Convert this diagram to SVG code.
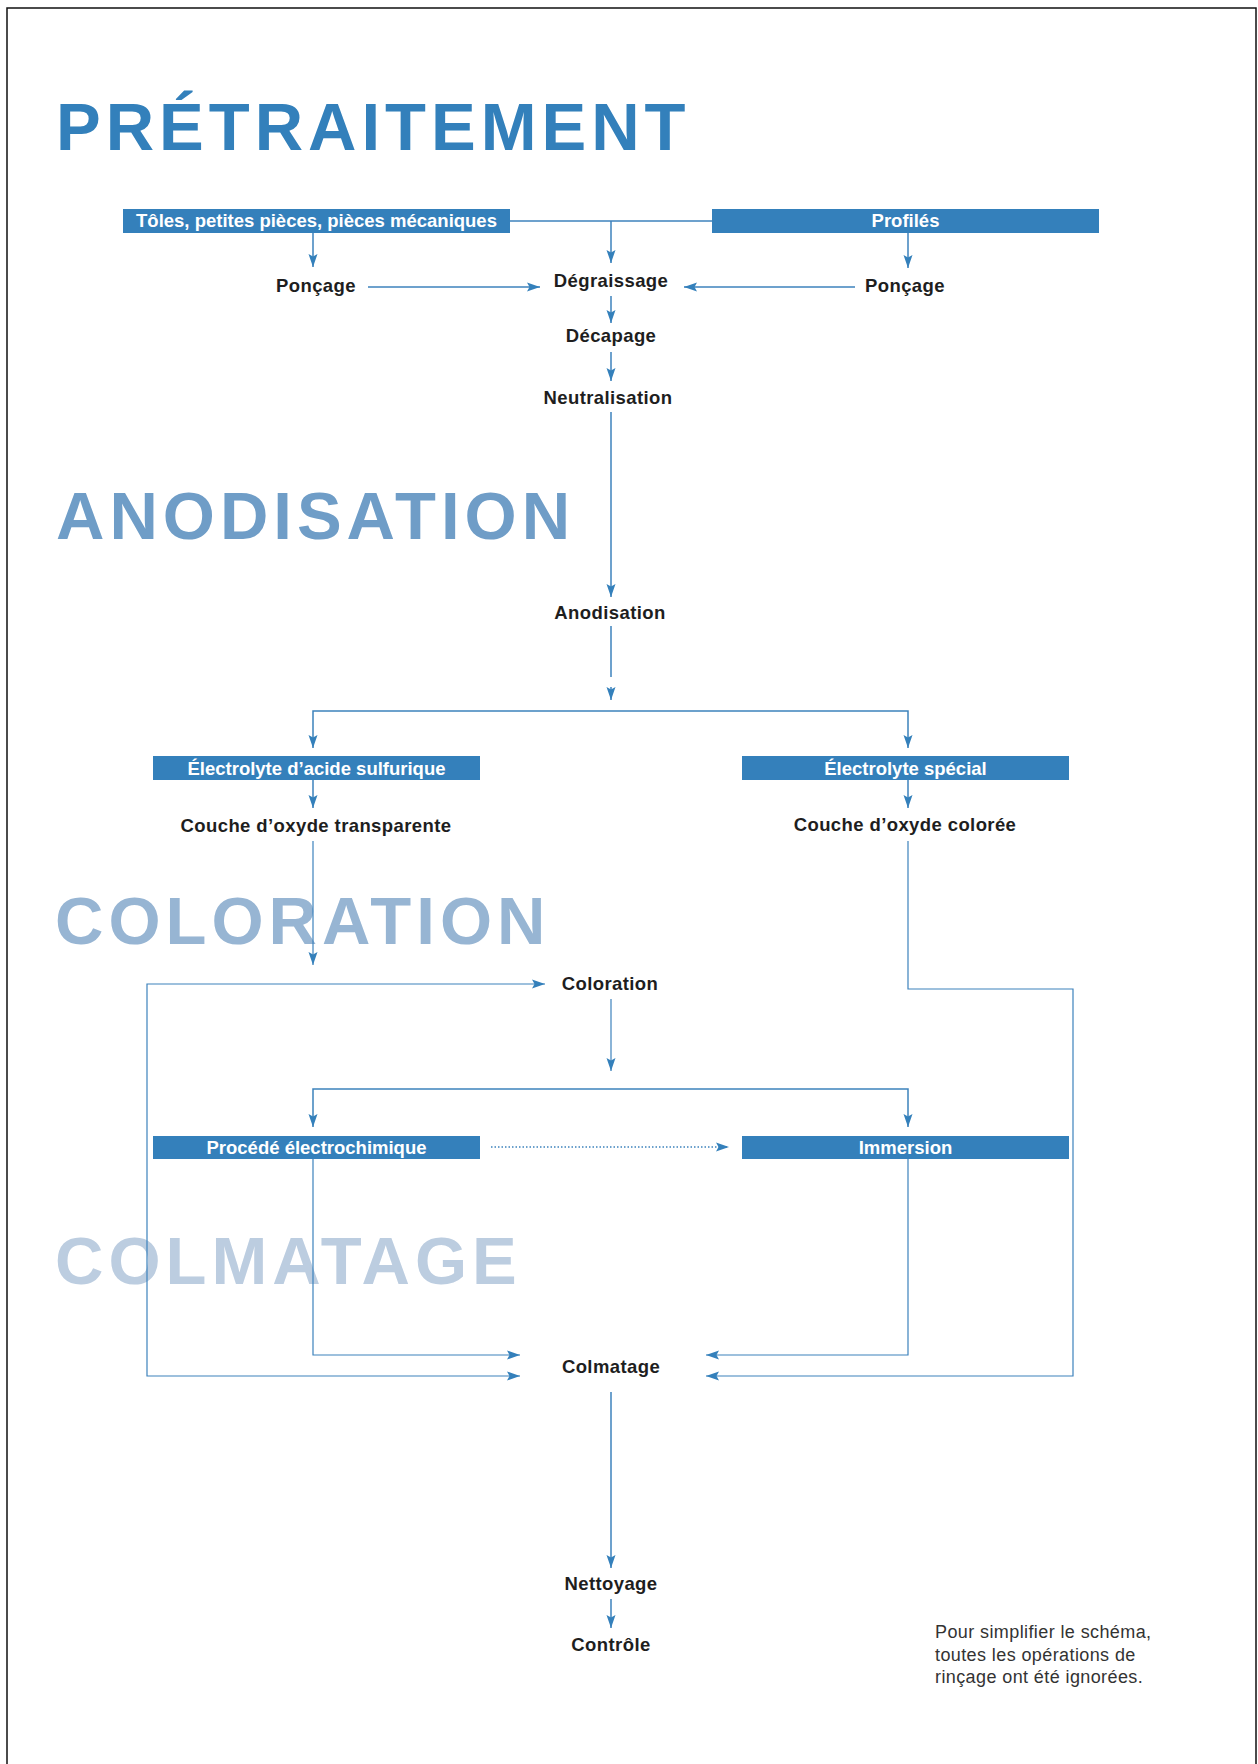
<svg xmlns="http://www.w3.org/2000/svg" width="1258" height="1764" viewBox="0 0 1258 1764">
<style>
.title{font-family:"Liberation Sans",Arial,sans-serif;font-weight:bold;font-size:67px;letter-spacing:5px}
.lbl{font-family:"Liberation Sans",Arial,sans-serif;font-weight:bold;font-size:18.5px;letter-spacing:0.4px;fill:#1e1e1e;text-anchor:middle}
.btxt{font-family:"Liberation Sans",Arial,sans-serif;font-weight:bold;font-size:18.5px;fill:#ffffff;text-anchor:middle}
.box{fill:#3480bb}
.note{font-family:"Liberation Sans",Arial,sans-serif;font-size:18px;letter-spacing:0.4px;fill:#333333}
.ln{fill:none;stroke:#3d82bc;stroke-width:1.5}
.thin{fill:none;stroke:#3d82bc;stroke-width:1.2}
.arr{marker-end:url(#ah)}
.dot{fill:none;stroke:#3d82bc;stroke-width:1.3;stroke-dasharray:1.5 2}
</style>
<defs>
<marker id="ah" markerUnits="userSpaceOnUse" markerWidth="13" markerHeight="10" refX="13" refY="5" orient="auto" overflow="visible">
<path d="M0,0.5 L13,5 L0,9.5 L2.5,5 z" fill="#3480bb"/>
</marker>
</defs>
<rect x="0" y="0" width="1258" height="1764" fill="#ffffff"/>
<path d="M7,1764 V8 H1256 V1764" fill="none" stroke="#111111" stroke-width="1.5"/>

<g id="titles">
<text class="title" x="56" y="150" fill="#3380bb">PRÉTRAITEMENT</text>
<text class="title" x="56" y="539" fill="#6f9dc7">ANODISATION</text>
<text class="title" x="55" y="944" fill="#97b5d3">COLORATION</text>
<text class="title" x="55" y="1284" fill="#bccde0">COLMATAGE</text>
</g>

<g id="connectors">
<path class="ln" d="M510,221 H712"/>
<path class="ln arr" d="M611,221 V263"/>
<path class="ln arr" d="M313,233 V267"/>
<path class="ln arr" d="M908,233 V268"/>
<path class="ln arr" d="M368,287 H540"/>
<path class="ln arr" d="M855,287 H684"/>
<path class="ln arr" d="M611,296 V323"/>
<path class="ln arr" d="M611,352 V381"/>
<path class="ln arr" d="M611,412 V597"/>
<path class="ln" d="M611,626 V677"/>
<path class="ln arr" d="M611,687 V700"/>
<path class="ln arr" d="M611,711 H313 V748"/>
<path class="ln arr" d="M611,711 H908 V748"/>
<path class="ln arr" d="M313,780 V808"/>
<path class="ln arr" d="M908,780 V808"/>
<path class="thin arr" d="M313,841 V965"/>
<path class="thin arr" d="M908,841 V989 H1073 V1376 H706"/>
<path class="thin arr" d="M147,1180 V984 H545"/>
<path class="thin arr" d="M147,1180 V1376 H520"/>
<path class="thin arr" d="M611,999 V1071"/>
<path class="ln arr" d="M611,1089 H313 V1127"/>
<path class="ln arr" d="M611,1089 H908 V1127"/>
<path class="dot arr" d="M491,1147 H729"/>
<path class="thin arr" d="M313,1159 V1355 H520"/>
<path class="thin arr" d="M908,1159 V1355 H706"/>
<path class="ln arr" d="M611,1392 V1568"/>
<path class="ln arr" d="M611,1599 V1628"/>
</g>

<g id="n-toles"><rect class="box" x="123" y="209" width="387" height="24"/><text class="btxt" x="316.5" y="227">Tôles, petites pièces, pièces mécaniques</text></g>
<g id="n-profiles"><rect class="box" x="712" y="209" width="387" height="24"/><text class="btxt" x="905.5" y="227">Profilés</text></g>
<g id="n-poncage1"><text class="lbl" x="316" y="292">Ponçage</text></g>
<g id="n-degraissage"><text class="lbl" x="611" y="287">Dégraissage</text></g>
<g id="n-poncage2"><text class="lbl" x="905" y="292">Ponçage</text></g>
<g id="n-decapage"><text class="lbl" x="611" y="342">Décapage</text></g>
<g id="n-neutralisation"><text class="lbl" x="608" y="404">Neutralisation</text></g>
<g id="n-anodisation"><text class="lbl" x="610" y="619">Anodisation</text></g>
<g id="n-electrolyte1"><rect class="box" x="153" y="756" width="327" height="24"/><text class="btxt" x="316.5" y="775">Électrolyte d’acide sulfurique</text></g>
<g id="n-electrolyte2"><rect class="box" x="742" y="756" width="327" height="24"/><text class="btxt" x="905.5" y="775">Électrolyte spécial</text></g>
<g id="n-couche1"><text class="lbl" x="316" y="832">Couche d’oxyde transparente</text></g>
<g id="n-couche2"><text class="lbl" x="905" y="831">Couche d’oxyde colorée</text></g>
<g id="n-coloration"><text class="lbl" x="610" y="990">Coloration</text></g>
<g id="n-procede"><rect class="box" x="153" y="1136" width="327" height="23"/><text class="btxt" x="316.5" y="1154">Procédé électrochimique</text></g>
<g id="n-immersion"><rect class="box" x="742" y="1136" width="327" height="23"/><text class="btxt" x="905.5" y="1154">Immersion</text></g>
<g id="n-colmatage"><text class="lbl" x="611" y="1373">Colmatage</text></g>
<g id="n-nettoyage"><text class="lbl" x="611" y="1590">Nettoyage</text></g>
<g id="n-controle"><text class="lbl" x="611" y="1651">Contrôle</text></g>

<g id="note">
<text class="note" x="935" y="1638">Pour simplifier le schéma,</text>
<text class="note" x="935" y="1661">toutes les opérations de</text>
<text class="note" x="935" y="1683">rinçage ont été ignorées.</text>
</g>
</svg>
